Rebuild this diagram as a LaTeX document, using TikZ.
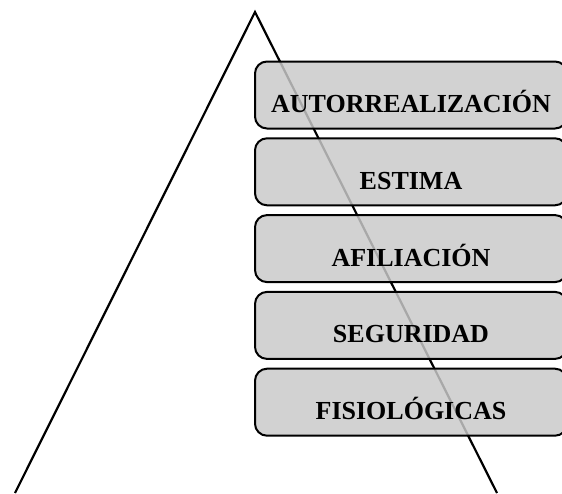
\documentclass[tikz,border=0pt]{standalone}
\usepackage{fontspec}
\setmainfont{Liberation Serif}
\usetikzlibrary{positioning}

\begin{document}
\begin{tikzpicture}[
  x=1pt, y=-1pt,
  node distance = 7.8pt,
  nivel/.style = {draw=black, line width=2pt, rectangle, rounded corners=12pt,
                  fill=black!21, fill opacity=0.84, text opacity=1,
                  minimum width=312pt, minimum height=67pt,
                  inner ysep=0pt, text height=51pt, text depth=16pt,
                  font=\fontsize{26}{30}\selectfont\bfseries},
  lado/.style  = {line width=2.2pt, draw=black},
]
\useasboundingbox (0,0) rectangle (562,493);

%-- Pirámide ---------------------------------------------------------
\coordinate (cima)  at (255,12);
\coordinate (izq)   at (15,493);
\coordinate (der)   at (497,493);
\draw[lado] (izq) -- (cima) -- (der);

%-- Niveles (de arriba abajo) ----------------------------------------
\node[nivel] (autorr) at (411,95) {AUTORREALIZACIÓN};
\node[nivel, below=of autorr] (estima)  {ESTIMA};
\node[nivel, below=of estima] (afil)    {AFILIACIÓN};
\node[nivel, below=of afil]   (segur)   {SEGURIDAD};
\node[nivel, below=of segur]  (fisio)   {FISIOLÓGICAS};

\end{tikzpicture}
\end{document}
